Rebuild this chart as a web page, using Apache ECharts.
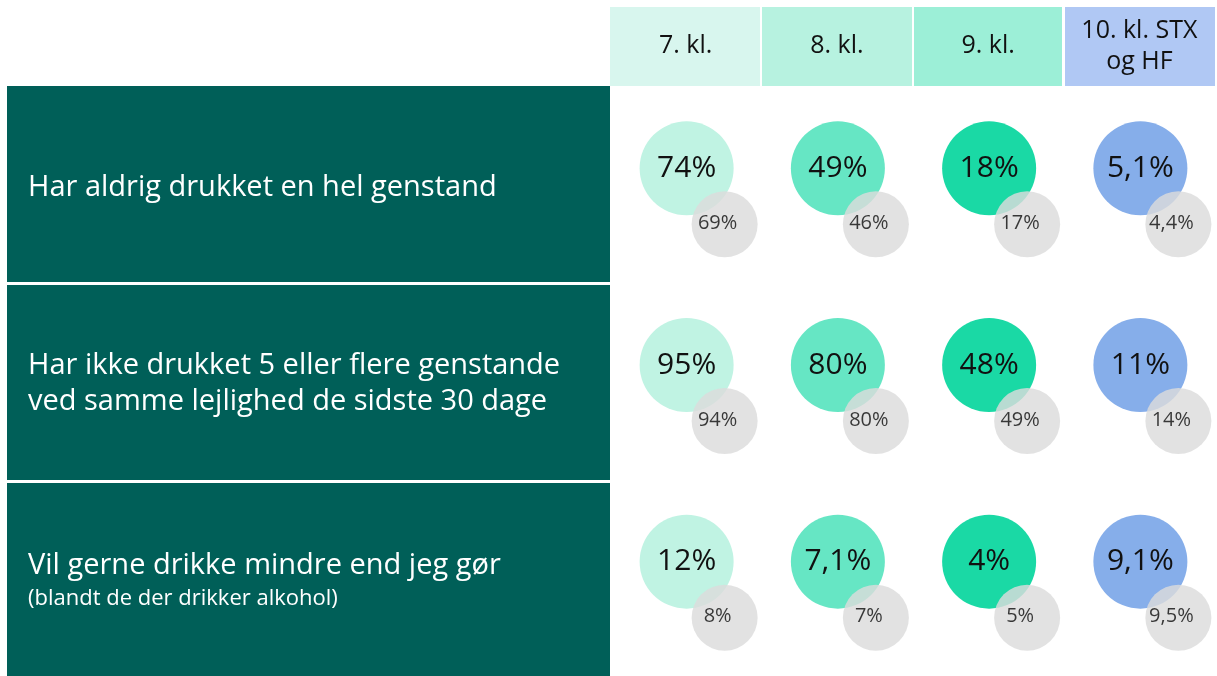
<!DOCTYPE html>
<html>
<head>
<meta charset="utf-8">
<script src="https://cdn.jsdelivr.net/npm/echarts@6/dist/echarts.min.js"></script>
<style>
  html, body { margin: 0; padding: 0; background: #fff; }
  #chart { width: 1217px; height: 676px; }
</style>
</head>
<body>
<div id="chart"></div>
<script>
// kolonner (klassetrin)
var grades = ['7. kl.', '8. kl.', '9. kl.', '10. kl. STX\nog HF'];
// rækker (spørgsmål)
var questions = [
  'Har aldrig drukket en hel genstand',
  'Har ikke drukket 5 eller flere genstande\nved samme lejlighed de sidste 30 dage',
  'Vil gerne drikke mindre end jeg gør'
];
var questionNotes = ['', '', '(blandt de der drikker alkohol)'];
// nuværende andele (store cirkler)
var currentValues = [
  [74, 49, 18, 5.1],
  [95, 80, 48, 11],
  [12, 7.1, 4, 9.1]
];
// tidligere andele (små grå cirkler)
var previousValues = [
  [69, 46, 17, 4.4],
  [94, 80, 49, 14],
  [8, 7, 5, 9.5]
];

var headerColors = ['#d8f6ee', '#b7f2e0', '#9cefd7', '#b0c8f4'];
var circleColors = ['#c0f3e3', '#66e6c4', '#1ad9a5', '#86aeea'];
var fontFamily = '"Open Sans", Lato, sans-serif';

function pct(v) {
  return String(v).replace('.', ',') + '%';
}

var bigData = [], smallData = [];
questions.forEach(function (q, r) {
  grades.forEach(function (g, c) {
    bigData.push({ value: [c, r, currentValues[r][c]], itemStyle: { color: circleColors[c] } });
    smallData.push({ value: [c, r, previousValues[r][c]] });
  });
});

// baggrunde til overskrifter og rækker
var graphics = [];
var headerX = [[610, 760], [762, 912], [914, 1062], [1065, 1215]];
headerX.forEach(function (h, i) {
  graphics.push({ type: 'rect', z: -10, shape: { x: h[0], y: 7, width: h[1] - h[0], height: 79 }, style: { fill: headerColors[i] } });
});
var panelY = [[86, 282], [285, 480], [483, 676]];
panelY.forEach(function (p) {
  graphics.push({ type: 'rect', z: -10, shape: { x: 7, y: p[0], width: 603, height: p[1] - p[0] }, style: { fill: '#005f58' } });
});

var chart = echarts.init(document.getElementById('chart'));
chart.setOption({
  animation: false,
  backgroundColor: '#fff',
  graphic: graphics,
  grid: { left: 610, right: 2, top: 86, bottom: 0 },
  xAxis: {
    type: 'category',
    position: 'top',
    data: grades,
    axisLine: { show: false },
    axisTick: { show: false },
    splitLine: { show: false },
    axisLabel: {
      interval: 0,
      margin: 40,
      verticalAlign: 'middle',
      color: '#111',
      fontSize: 25,
      lineHeight: 31,
      fontFamily: fontFamily
    }
  },
  yAxis: {
    type: 'category',
    inverse: true,
    data: questions,
    axisLine: { show: false },
    axisTick: { show: false },
    splitLine: { show: false },
    axisLabel: {
      interval: 0,
      margin: 582,
      align: 'left',
      verticalAlign: 'middle',
      padding: [6, 0, 0, 0],
      color: '#fff',
      fontFamily: fontFamily,
      formatter: function (v, i) {
        var s = '{main|' + v.split('\n').join('}\n{main|') + '}';
        if (questionNotes[i]) s += '\n{note|' + questionNotes[i] + '}';
        return s;
      },
      rich: {
        main: { fontSize: 29, lineHeight: 36, color: '#fff', fontFamily: fontFamily },
        note: { fontSize: 22, lineHeight: 30, color: '#fff', fontFamily: fontFamily }
      }
    }
  },
  series: [
    {
      type: 'scatter',
      data: bigData,
      symbolSize: 94,
      symbolOffset: [1, -16],
      z: 2,
      itemStyle: { opacity: 1 },
      label: {
        show: true,
        position: 'inside',
        color: '#111',
        fontSize: 30,
        fontFamily: fontFamily,
        formatter: function (p) { return pct(p.value[2]); }
      }
    },
    {
      type: 'scatter',
      data: smallData,
      symbolSize: 66,
      symbolOffset: [39, 40],
      z: 3,
      itemStyle: { color: '#dcdcdc', opacity: 0.82 },
      label: {
        show: true,
        position: 'inside',
        offset: [-7, -1],
        color: '#111',
        fontSize: 20,
        fontFamily: fontFamily,
        formatter: function (p) { return pct(p.value[2]); }
      }
    }
  ]
});
</script>
</body>
</html>
